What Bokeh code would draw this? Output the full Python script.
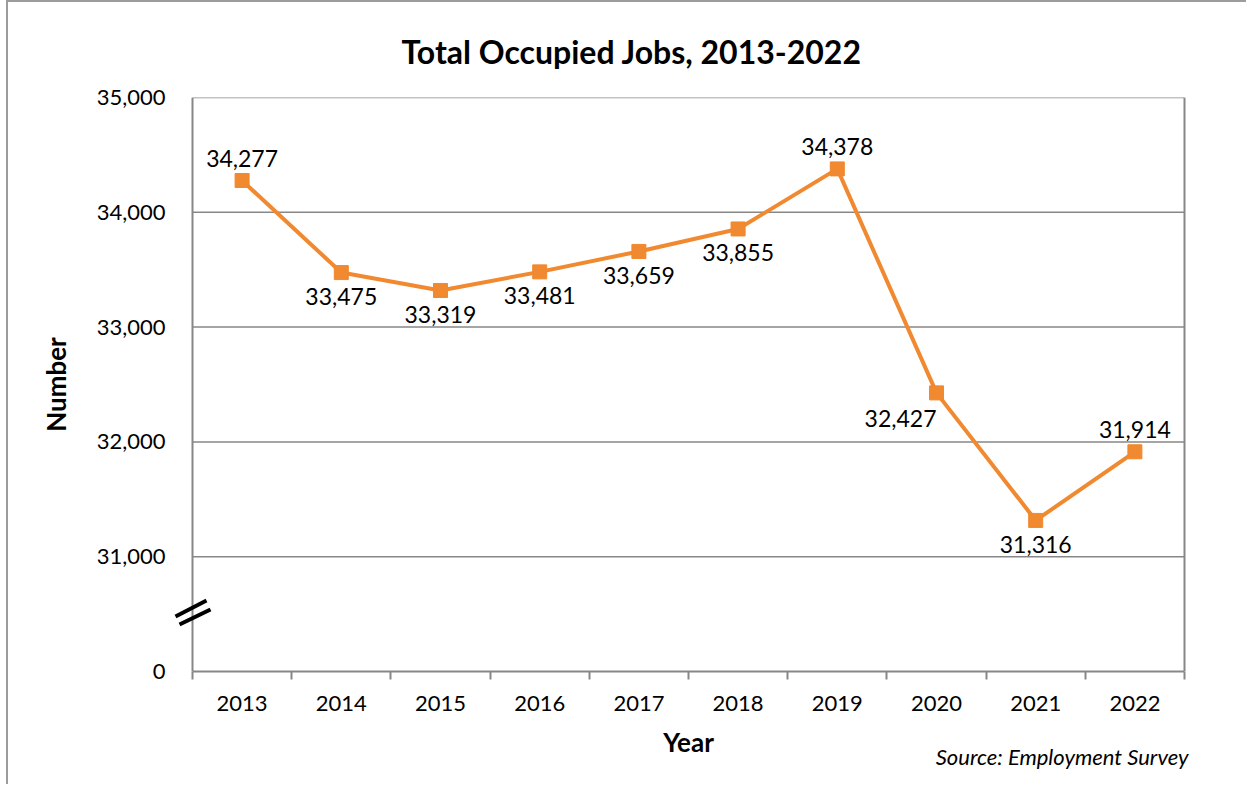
from bokeh.plotting import figure
from bokeh.models import (Range1d, FixedTicker, ColumnDataSource, LabelSet,
                          Arrow, NumeralTickFormatter, Title)
from bokeh.core.properties import value
from bokeh.embed import file_html
from bokeh.resources import INLINE

# ---- data ----
years = ["2013", "2014", "2015", "2016", "2017", "2018", "2019", "2020", "2021", "2022"]
jobs = [34277, 33475, 33319, 33481, 33659, 33855, 34378, 32427, 31316, 31914]
label_side = ["above", "below", "below", "below", "below", "below", "above", "left", "below", "above"]
y_ticks = [30000, 31000, 32000, 33000, 34000, 35000]
y_tick_labels = {30000: "0"}

FONT = "Lato"
ORANGE = "#F0892F"
GRAY = "#878787"

# geometry (page px); canvas origin sits at (OX, OY) on the page
OX, OY = 8, 2
W, H = 1240, 784
PL, PR, PT, PB = 192, 1184, 97, 671   # visible plot box
EXT = 20                              # frame extends EXT px beyond box left/right
FL, FR = PL - EXT - OX, PR + EXT - OX
FT, FB = PT - OY, PB - OY
Y0, Y1 = 30000, 35000
N = len(years)
xppu = (PR - PL) / N
yppu = (PB - PT) / (Y1 - Y0)


def dx(px):  # page px -> data x
    return -0.5 + (px - PL) / xppu


def dy(py):  # page px -> data y
    return Y1 - (py - PT) / yppu


p = figure(width=W, height=H, output_backend="svg", toolbar_location=None,
           x_range=Range1d(dx(PL - EXT), dx(PR + EXT)), y_range=Range1d(Y0, Y1),
           min_border_left=FL, min_border_right=W - FR,
           min_border_top=FT, min_border_bottom=H - FB,
           background_fill_color="white", border_fill_color="white",
           styles={"margin-left": "6px",
                   "border-top": "2px solid #9c9c9c", "border-left": "2px solid #9c9c9c"})
p.outline_line_color = None

# x axis
xs = list(range(N))
p.xaxis.ticker = FixedTicker(ticks=xs, minor_ticks=[i - 0.5 for i in range(N + 1)])
p.xaxis.major_label_overrides = {i: y for i, y in enumerate(years)}
p.xaxis.bounds = (-0.5, N - 0.5)
p.xaxis.major_tick_out = 0
p.xaxis.major_tick_in = 0
p.xaxis.minor_tick_out = 8
p.xaxis.minor_tick_in = 0
p.xaxis.minor_tick_line_color = GRAY
p.xaxis.minor_tick_line_width = 2
p.xaxis.axis_line_color = GRAY
p.xaxis.axis_line_width = 2
p.xaxis.major_label_text_font = FONT
p.xaxis.major_label_text_font_size = "22px"
p.xaxis.major_label_text_color = "black"
p.xaxis.major_label_standoff = 16
p.xaxis.axis_label = "Year"
p.xaxis.axis_label_text_font = FONT
p.xaxis.axis_label_text_font_size = "26px"
p.xaxis.axis_label_text_font_style = "bold"
p.xaxis.axis_label_text_color = "black"
p.xaxis.axis_label_standoff = 12

# y axis (its own line is drawn at the box edge below)
p.yaxis.ticker = FixedTicker(ticks=y_ticks)
p.yaxis.formatter = NumeralTickFormatter(format="0,0")
p.yaxis.major_label_overrides = y_tick_labels
p.yaxis.axis_line_color = None
p.yaxis.major_tick_line_color = None
p.yaxis.minor_tick_line_color = None
p.yaxis.major_label_text_font = FONT
p.yaxis.major_label_text_font_size = "22px"
p.yaxis.major_label_text_color = "black"
p.yaxis.major_label_standoff = 1
p.yaxis.axis_label = "Number"
p.yaxis.axis_label_text_font = FONT
p.yaxis.axis_label_text_font_size = "26px"
p.yaxis.axis_label_text_font_style = "bold"
p.yaxis.axis_label_text_color = "black"
p.yaxis.axis_label_standoff = 22

p.xgrid.visible = False
p.ygrid.visible = False

# horizontal gridlines (incl. top border), left axis line and right border
grid_y = [t for t in y_ticks if t > Y0]
p.segment(x0=[-0.5] * len(grid_y), y0=grid_y, x1=[N - 0.5] * len(grid_y), y1=grid_y,
          line_color=GRAY, line_width=1.5)
p.segment(x0=[-0.5, N - 0.5], y0=[Y0, Y0], x1=[-0.5, N - 0.5], y1=[Y1, Y1],
          line_color=GRAY, line_width=2)

# series
offsets = {"above": (0, 22, "center"), "below": (0, -24, "center"), "left": (0, -26, "right")}
src = ColumnDataSource(dict(
    x=xs, y=jobs, txt=[f"{v:,}" for v in jobs],
    xo=[offsets[s][0] for s in label_side],
    yo=[offsets[s][1] for s in label_side],
    al=[offsets[s][2] for s in label_side],
))
p.line("x", "y", source=src, line_color=ORANGE, line_width=4)
p.scatter("x", "y", source=src, marker="square", size=14, fill_color=ORANGE, line_color=ORANGE)
p.add_layout(LabelSet(x="x", y="y", text="txt", source=src, x_offset="xo", y_offset="yo",
                      text_align="al", text_baseline="middle", text_font=value(FONT),
                      text_font_size=value("23px"), text_color="black"))

# chart title
p.add_layout(Title(text="Total Occupied Jobs, 2013-2022", align="left", offset=229,
                   standoff=54, vertical_align="bottom", text_font=FONT,
                   text_font_size="32px", text_font_style="bold", text_color="black"), "above")

# source note
p.add_layout(Title(text="Source: Employment Survey", align="right", offset=16, standoff=-36,
                   vertical_align="top", text_font=FONT, text_font_size="22px",
                   text_font_style="italic", text_color="black"), "below")

# axis break marks
for (a, b, c, d) in [(175, 616, 206, 600), (179, 624, 210, 609)]:
    p.add_layout(Arrow(end=None, x_start=dx(a), y_start=dy(b), x_end=dx(c), y_end=dy(d),
                       line_color="black", line_width=4))

open("out.html", "w").write(file_html(p, INLINE))
